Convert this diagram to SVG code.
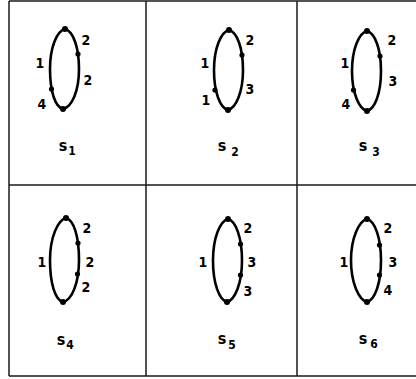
<svg xmlns="http://www.w3.org/2000/svg" width="416" height="379" viewBox="0 0 416 379">
<style>
.bg{fill:#fff}
.grid line{stroke:#1a1a1a;stroke-width:1.5}
.loop{fill:none;stroke:#000;stroke-width:2.6}
.dot{fill:#000}
.lbl{font-family:"DejaVu Sans Condensed","DejaVu Sans",sans-serif;font-weight:bold;font-size:14px;fill:#000;text-anchor:middle;dominant-baseline:central}
.s{font-family:"DejaVu Sans Condensed","DejaVu Sans",sans-serif;font-weight:bold;font-size:16px;fill:#000;text-anchor:middle;dominant-baseline:central}
.sub{font-family:"DejaVu Sans Condensed","DejaVu Sans",sans-serif;font-weight:bold;font-size:12px;fill:#000;text-anchor:middle;dominant-baseline:central}
</style>
<rect class="bg" x="0" y="0" width="416" height="379"/>
<g id="connectors" class="grid">
<line x1="9" y1="1" x2="416" y2="1"/>
<line x1="9" y1="185" x2="416" y2="185"/>
<line x1="9" y1="376" x2="416" y2="376"/>
<line x1="9" y1="1" x2="9" y2="376"/>
<line x1="146" y1="1" x2="146" y2="376"/>
<line x1="297" y1="1" x2="297" y2="376"/>
</g>
<g id="s1">
<path class="loop" d="M65,29 C73,31 79,47 79,69 C79,91 72,107 63,109 C55,107 50,91 50,69 C50,47 57,31 65,29Z"/>
<circle class="dot" cx="65" cy="29" r="3"/><circle class="dot" cx="63" cy="109" r="3"/>
<circle class="dot" cx="78" cy="54" r="2.6"/><circle class="dot" cx="51.5" cy="89" r="2.6"/>
<text class="lbl" x="86" y="40">2</text><text class="lbl" x="40" y="63">1</text>
<text class="lbl" x="88" y="80">2</text><text class="lbl" x="42" y="104">4</text>
<text class="s" x="63" y="145">s</text><text class="sub" x="72" y="151">1</text>
</g>
<g id="s2">
<path class="loop" d="M229,30 C237,32 243,48 243,70 C243,92 236,108 228,110 C220,108 214,92 214,70 C214,48 221,32 229,30Z"/>
<circle class="dot" cx="229" cy="30" r="3"/><circle class="dot" cx="228" cy="110" r="3"/>
<circle class="dot" cx="242" cy="55" r="2.6"/><circle class="dot" cx="215" cy="90" r="2.6"/>
<text class="lbl" x="250" y="40">2</text><text class="lbl" x="205" y="63">1</text>
<text class="lbl" x="250" y="89">3</text><text class="lbl" x="206" y="100">1</text>
<text class="s" x="222" y="145">s</text><text class="sub" x="235" y="152">2</text>
</g>
<g id="s3">
<path class="loop" d="M367,31 C375,33 381,49 381,71 C381,93 375,109 367,111 C359,109 352,93 352,71 C352,49 359,33 367,31Z"/>
<circle class="dot" cx="367" cy="31" r="3"/><circle class="dot" cx="367" cy="111" r="3"/>
<circle class="dot" cx="380" cy="56" r="2.6"/><circle class="dot" cx="353.5" cy="90" r="2.6"/>
<text class="lbl" x="392" y="40">2</text><text class="lbl" x="345" y="63">1</text>
<text class="lbl" x="393" y="81">3</text><text class="lbl" x="346" y="104">4</text>
<text class="s" x="363" y="145">s</text><text class="sub" x="376" y="152">3</text>
</g>
<g id="s4">
<path class="loop" d="M66,218 C74,220 79,237 79,260 C79,283 72,300 63,302 C55,300 50,283 50,260 C50,237 58,220 66,218Z"/>
<circle class="dot" cx="66" cy="218" r="3"/><circle class="dot" cx="63" cy="302" r="3"/>
<circle class="dot" cx="78" cy="243" r="2.6"/><circle class="dot" cx="77.5" cy="274" r="2.6"/>
<text class="lbl" x="87" y="228">2</text><text class="lbl" x="42" y="262">1</text>
<text class="lbl" x="90" y="262">2</text><text class="lbl" x="86" y="287">2</text>
<text class="s" x="61" y="339">s</text><text class="sub" x="70" y="345">4</text>
</g>
<g id="s5">
<path class="loop" d="M228,219 C236,221 242,238 242,260.5 C242,283 235,300 227,302 C219,300 213,283 213,260.5 C213,238 220,221 228,219Z"/>
<circle class="dot" cx="228" cy="219" r="3"/><circle class="dot" cx="227" cy="302" r="3"/>
<circle class="dot" cx="240.5" cy="244" r="2.6"/><circle class="dot" cx="240.5" cy="275" r="2.6"/>
<text class="lbl" x="248" y="228">2</text><text class="lbl" x="203" y="262">1</text>
<text class="lbl" x="252" y="262">3</text><text class="lbl" x="248" y="291">3</text>
<text class="s" x="222" y="338">s</text><text class="sub" x="232" y="345">5</text>
</g>
<g id="s6">
<path class="loop" d="M367,219 C375,221 381,238 381,260.5 C381,283 375,300 367,302 C359,300 351,283 351,260.5 C351,238 359,221 367,219Z"/>
<circle class="dot" cx="367" cy="219" r="3"/><circle class="dot" cx="367" cy="302" r="3"/>
<circle class="dot" cx="379.5" cy="245" r="2.6"/><circle class="dot" cx="379.5" cy="275" r="2.6"/>
<text class="lbl" x="388" y="228">2</text><text class="lbl" x="344" y="262">1</text>
<text class="lbl" x="393" y="262">3</text><text class="lbl" x="388" y="290">4</text>
<text class="s" x="363" y="338">s</text><text class="sub" x="374" y="344">6</text>
</g>
</svg>
